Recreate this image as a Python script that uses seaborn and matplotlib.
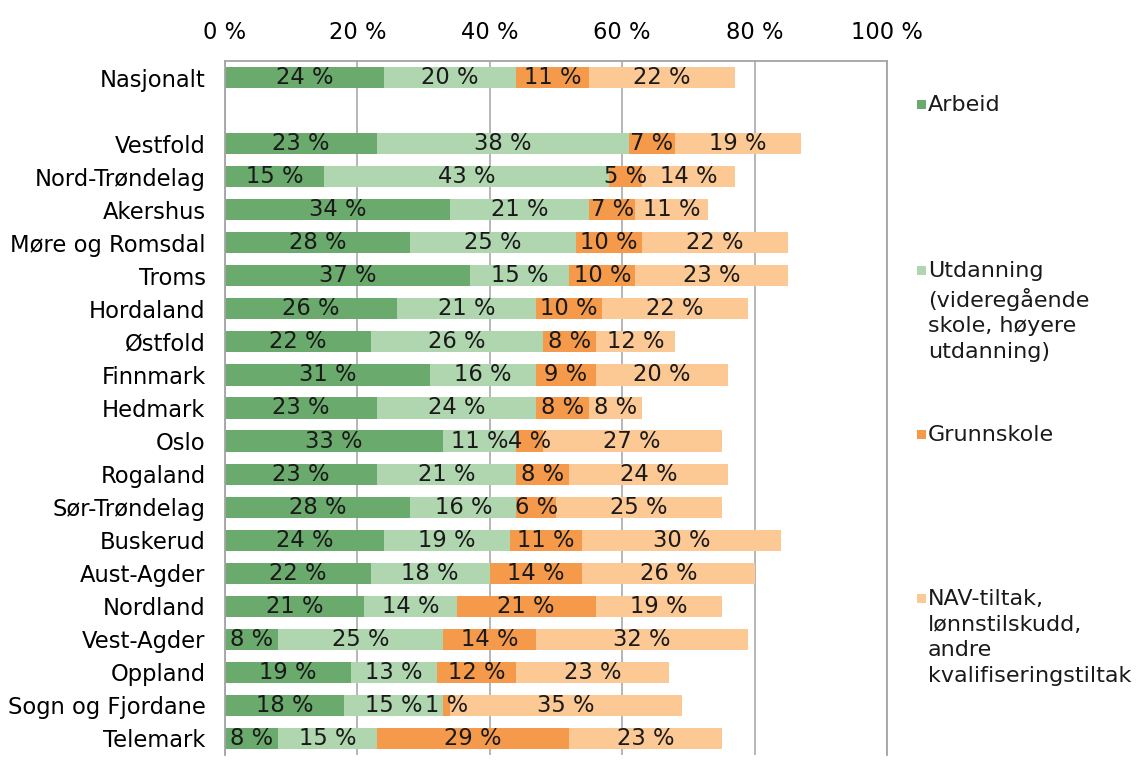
import pandas as pd
import numpy as np
import seaborn as sns
import matplotlib.pyplot as plt
from matplotlib.patches import Rectangle

regioner = ["Nasjonalt", "Vestfold", "Nord-Trøndelag", "Akershus", "Møre og Romsdal", "Troms",
            "Hordaland", "Østfold", "Finnmark", "Hedmark", "Oslo", "Rogaland", "Sør-Trøndelag",
            "Buskerud", "Aust-Agder", "Nordland", "Vest-Agder", "Oppland", "Sogn og Fjordane", "Telemark"]
arbeid = [24, 23, 15, 34, 28, 37, 26, 22, 31, 23, 33, 23, 28, 24, 22, 21, 8, 19, 18, 8]
utdanning = [20, 38, 43, 21, 25, 15, 21, 26, 16, 24, 11, 21, 16, 19, 18, 14, 25, 13, 15, 15]
grunnskole = [11, 7, 5, 7, 10, 10, 10, 8, 9, 8, 4, 8, 6, 11, 14, 21, 14, 12, 1, 29]
nav = [22, 19, 14, 11, 22, 23, 22, 12, 20, 8, 27, 24, 25, 30, 26, 19, 32, 23, 35, 23]

serier = ["Arbeid", "Utdanning\n(videregående\nskole, høyere\nutdanning)", "Grunnskole",
          "NAV-tiltak,\nlønnstilskudd,\nandre\nkvalifiseringstiltak"]
farger = ["#6aaa6c", "#b0d6b0", "#f5994a", "#fcc894"]
xticks = [0, 20, 40, 60, 80, 100]

df = pd.DataFrame({"Region": regioner, "Arbeid": arbeid, "Utdanning": utdanning,
                   "Grunnskole": grunnskole, "NAV": nav})
kolonner = ["Arbeid", "Utdanning", "Grunnskole", "NAV"]
kum = df[kolonner].cumsum(axis=1)

# tom rad mellom Nasjonalt og fylkene
rekkefolge = ["Nasjonalt", ""] + regioner[1:]

fs = 16.3
plt.rcParams['font.family'] = ['DejaVu Sans']
fig = plt.figure(figsize=(11.38, 7.72), dpi=100)
ax = fig.add_axes([225/1138, 1-755/772, (887-225)/1138, (755-61)/772])

# stablede stolper: tegn summene bakfra
for i in range(3, -1, -1):
    sns.barplot(x=kum[kolonner[i]], y=df["Region"], order=rekkefolge, orient="h",
                color=farger[i], saturation=1, width=0.64, linewidth=0, ax=ax, zorder=2)

# etiketter
pos = {r: rekkefolge.index(r) for r in regioner}
for i, k in enumerate(kolonner):
    for j, r in enumerate(regioner):
        venstre = kum[k][j] - df[k][j]
        ax.text(venstre + df[k][j] / 2, pos[r], f"{df[k][j]} %", ha="center", va="center",
                fontsize=fs, color="#1a1a1a", zorder=3)

ax.set_xlim(0, 100)
ax.set_ylim(len(rekkefolge) - 0.5, -0.5)
ax.set_xticks(xticks)
ax.set_xticklabels([f"{t} %" for t in xticks], fontsize=fs)
ax.xaxis.tick_top()
ax.tick_params(axis="x", length=0, pad=12)
ax.tick_params(axis="y", length=0, pad=14, labelsize=fs)
ax.set_xlabel("")
ax.set_ylabel("")
ax.grid(axis="x", color="#b0b0b0", linewidth=1.3, zorder=0)
ax.set_axisbelow(True)
for s in ["top", "right", "left"]:
    ax.spines[s].set_color("#a4a4a4")
    ax.spines[s].set_linewidth(1.3)
ax.spines["bottom"].set_visible(False)

# forklaring til høyre
leg_y = [104, 270, 434, 598]
for i in range(4):
    y = leg_y[i]
    fig.add_artist(Rectangle((917/1138, 1-(y+5)/772), 9/1138, 9/772,
                             transform=fig.transFigure, color=farger[i], lw=0))
    fig.text(928/1138, 1-(y-9)/772, serier[i], ha="left", va="top", fontsize=16,
             color="#1a1a1a", linespacing=1.35)

fig.savefig("out.png", dpi=100)
